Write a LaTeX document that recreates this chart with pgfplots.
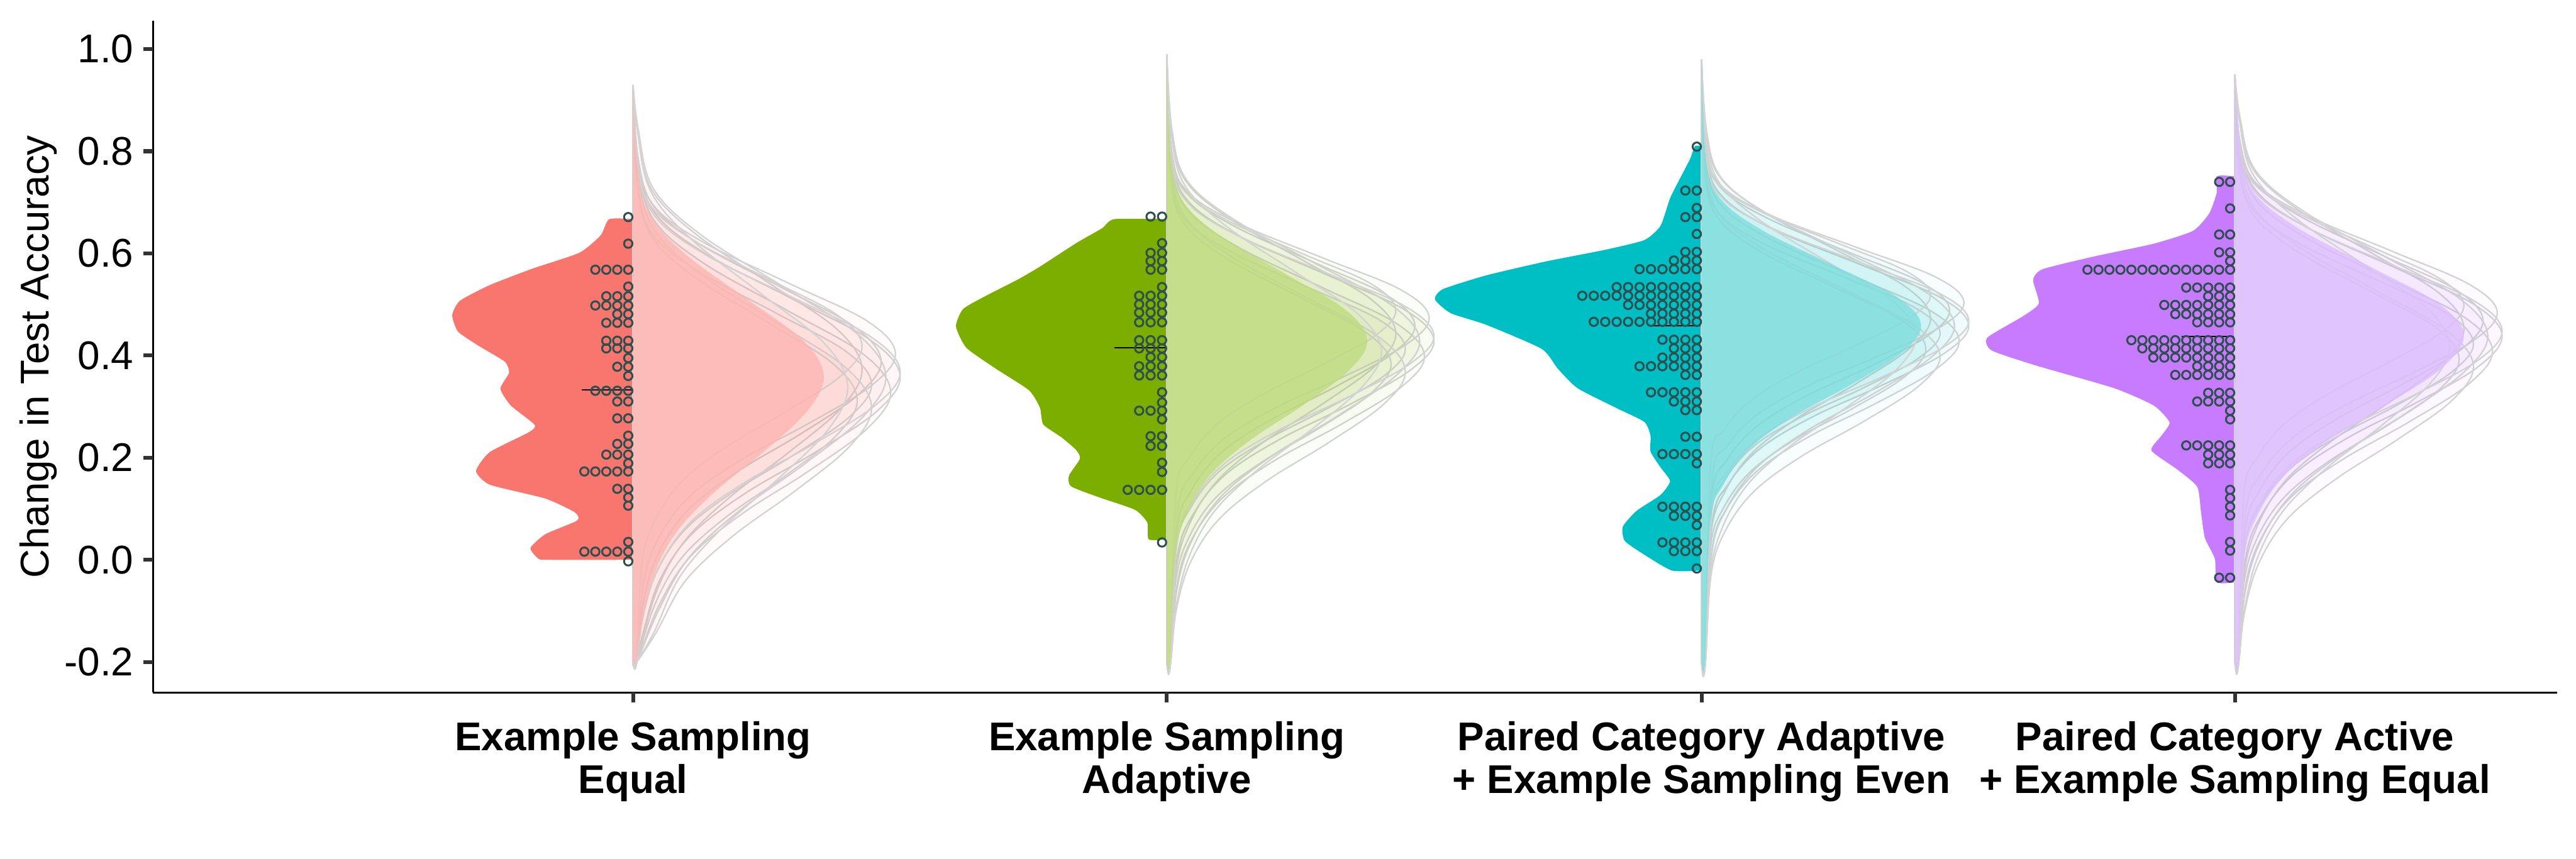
\documentclass[border=0pt]{standalone}
\usepackage{fontspec}
\setmainfont{Liberation Sans}
\usepackage{pgfplots}
\pgfplotsset{compat=1.18}
\definecolor{c1}{HTML}{F8766D}
\definecolor{c2}{HTML}{7CAE00}
\definecolor{c3}{HTML}{00BFC4}
\definecolor{c4}{HTML}{C77CFF}
\definecolor{s1}{HTML}{FDB6B2}
\definecolor{s2}{HTML}{BFDB7F}
\definecolor{s3}{HTML}{80DDDD}
\definecolor{s4}{HTML}{DCBFFD}
\definecolor{dotc}{HTML}{2F4F4F}
\definecolor{grayl}{HTML}{D3D3D3}
\definecolor{tickc}{HTML}{333333}
\pgfplotsset{
  gc/.style={smooth, tension=0.6, draw=grayl, line width=0.6pt, fill opacity=0.028},
  sc/.style={smooth, tension=0.6, draw=none, fill opacity=0.8},
  lv/.style={smooth, tension=0.35, draw=none},
  dots/.style={only marks, mark=o, mark size=1.75pt, mark options={draw=dotc, line width=0.8pt}},
  med/.style={black, line width=0.6pt},
}
\tikzset{ytl/.style={anchor=east, inner sep=0pt, xshift=-8pt, font=\fontsize{16.8}{18}\selectfont},
  tk/.style={draw=tickc, line width=1.6pt, line cap=butt}}
\begin{document}
\begin{tikzpicture}
\begin{axis}[
  at={(0,0)}, anchor=south west,
  scale only axis, width=1007.8pt, height=281.6pt,
  xmin=321, xmax=5360, ymin=-0.26, ymax=1.055, clip=false,
  axis lines=left, axis line style={-, line width=0.8pt, black},
  xtick={1327,2446,3567,4685},
  xticklabels={{Example Sampling\\Equal},{Example Sampling\\Adaptive},{Paired Category Adaptive\\+ Example Sampling Even},{Paired Category Active\\+ Example Sampling Equal}},
  ytick={-0.2,0,0.2,0.4,0.6,0.8,1.0},
  yticklabel=\empty,
  xtick pos=bottom, ytick pos=left,
  tick align=outside, major tick length=4.2pt,
  every major tick/.append style={line width=1.6pt, draw=tickc, line cap=butt},
  xticklabel style={font=\fontsize{16.8}{18}\selectfont\bfseries, align=center, anchor=north, inner sep=0pt, yshift=-7.7pt},
  ylabel={Change in Test Accuracy},
  ylabel style={font=\fontsize{16.8}{18}\selectfont, at={(axis description cs:-0.04783,0.5)}, anchor=center, inner sep=0pt},
]
% y tick labels and tick marks
\node[ytl] at (axis cs:321,-0.2) {-0.2};
\node[ytl] at (axis cs:321,0.0) {0.0};
\node[ytl] at (axis cs:321,0.2) {0.2};
\node[ytl] at (axis cs:321,0.4) {0.4};
\node[ytl] at (axis cs:321,0.6) {0.6};
\node[ytl] at (axis cs:321,0.8) {0.8};
\node[ytl] at (axis cs:321,1.0) {1.0};
\draw[tk] (axis cs:321,-0.2) -- ++(-4.2pt,0pt);
\draw[tk] (axis cs:321,0.0) -- ++(-4.2pt,0pt);
\draw[tk] (axis cs:321,0.2) -- ++(-4.2pt,0pt);
\draw[tk] (axis cs:321,0.4) -- ++(-4.2pt,0pt);
\draw[tk] (axis cs:321,0.6) -- ++(-4.2pt,0pt);
\draw[tk] (axis cs:321,0.8) -- ++(-4.2pt,0pt);
\draw[tk] (axis cs:321,1.0) -- ++(-4.2pt,0pt);
\draw[tk] (axis cs:1327,-0.26) -- ++(0pt,-4.2pt);
\draw[tk] (axis cs:2446,-0.26) -- ++(0pt,-4.2pt);
\draw[tk] (axis cs:3567,-0.26) -- ++(0pt,-4.2pt);
\draw[tk] (axis cs:4685,-0.26) -- ++(0pt,-4.2pt);
% ================= Group 1 =================
\addplot[lv, fill=c1] coordinates {(1327,0.667) (1277,0.667) (1259,0.635) (1214,0.601) (1116,0.570) (1027,0.538) (964,0.507) (948,0.479) (960,0.447) (1000,0.421) (1058,0.388) (1067,0.366) (1049,0.335) (1071,0.302) (1121,0.264) (1107,0.249) (1027,0.211) (998,0.174) (1027,0.147) (1143,0.120) (1205,0.093) (1210,0.077) (1143,0.050) (1112,0.023) (1129,0.002) (1150,0.0) (1327,0.0)} -- cycle;
\addplot[dots] coordinates {
(1317,0.671) (1317,0.619)
(1317,0.568)(1294,0.568)(1271,0.568)(1248,0.568)
(1317,0.535)
(1317,0.516)(1294,0.516)(1271,0.516)
(1317,0.498)(1294,0.498)(1271,0.498)(1248,0.498)
(1317,0.481)(1294,0.481)
(1317,0.464)(1294,0.464)(1271,0.464)
(1317,0.429)(1294,0.429)(1271,0.429)
(1317,0.414)(1294,0.414)(1271,0.414)
(1317,0.395)
(1317,0.378)(1294,0.378)
(1317,0.360)
(1317,0.331)(1294,0.331)(1271,0.331)(1248,0.331)
(1317,0.310)(1294,0.310)
(1317,0.277)(1294,0.277)
(1317,0.243)
(1317,0.227)(1294,0.227)
(1317,0.206)(1294,0.206)(1271,0.206)
(1317,0.189)
(1317,0.173)(1294,0.173)(1271,0.173)(1248,0.173)(1225,0.173)
(1317,0.139)(1294,0.139)
(1317,0.122) (1317,0.106) (1317,0.035)
(1317,0.016)(1294,0.016)(1271,0.016)(1248,0.016)(1225,0.016)
(1317,-0.003)};
\addplot[med] coordinates {(1219,0.333) (1327,0.333)};
\addplot[gc, fill=c1] table[x expr=\thisrow{w}+1327, y=y, row sep=\\] {w y\\0 0.93\\11 0.78\\45 0.68\\151 0.60\\336 0.51\\498 0.43\\560 0.36\\510 0.29\\381 0.21\\235 0.13\\123 0.05\\56 -0.04\\22 -0.14\\8 -0.2\\0 -0.2\\} -- cycle;
\addplot[gc, fill=c1] table[x expr=\thisrow{w}+1327, y=y, row sep=\\] {w y\\0 0.92\\10 0.789\\42 0.694\\140 0.618\\312 0.533\\463 0.457\\520 0.39\\473 0.324\\354 0.248\\218 0.172\\114 0.096\\52 0.01\\21 -0.085\\8 -0.2\\0 -0.2\\} -- cycle;
\addplot[gc, fill=c1] table[x expr=\thisrow{w}+1327, y=y, row sep=\\] {w y\\0 0.91\\11 0.771\\43 0.666\\146 0.582\\324 0.488\\481 0.404\\540 0.33\\491 0.257\\367 0.173\\227 0.089\\119 0.005\\54 -0.09\\8 -0.2\\0 -0.2\\} -- cycle;
\addplot[gc, fill=c1] table[x expr=\thisrow{w}+1327, y=y, row sep=\\] {w y\\0 0.93\\10 0.837\\38 0.727\\130 0.639\\288 0.54\\427 0.452\\480 0.375\\437 0.298\\326 0.21\\202 0.122\\106 0.034\\48 -0.065\\7 -0.2\\0 -0.2\\} -- cycle;
\addplot[gc, fill=c1] table[x expr=\thisrow{w}+1327, y=y, row sep=\\] {w y\\0 0.90\\10 0.731\\40 0.639\\135 0.566\\300 0.483\\445 0.409\\500 0.345\\455 0.281\\340 0.207\\210 0.133\\110 0.06\\50 -0.023\\20 -0.115\\8 -0.2\\0 -0.2\\} -- cycle;
\addplot[gc, fill=c1] table[x expr=\thisrow{w}+1327, y=y, row sep=\\] {w y\\0 0.92\\11 0.783\\44 0.693\\149 0.621\\330 0.54\\490 0.468\\550 0.405\\501 0.342\\374 0.27\\231 0.198\\121 0.126\\55 0.045\\22 -0.045\\8 -0.2\\0 -0.2\\} -- cycle;
\addplot[gc, fill=c1] table[x expr=\thisrow{w}+1327, y=y, row sep=\\] {w y\\0 0.89\\9 0.735\\38 0.635\\127 0.555\\282 0.465\\418 0.385\\470 0.315\\428 0.245\\320 0.165\\197 0.085\\103 0.005\\47 -0.085\\7 -0.2\\0 -0.2\\} -- cycle;
\addplot[gc, fill=c1] table[x expr=\thisrow{w}+1327, y=y, row sep=\\] {w y\\0 0.93\\11 0.843\\42 0.728\\143 0.636\\318 0.533\\472 0.441\\530 0.36\\482 0.28\\360 0.188\\223 0.096\\117 0.004\\53 -0.10\\8 -0.2\\0 -0.2\\} -- cycle;
\addplot[gc, fill=c1] table[x expr=\thisrow{w}+1327, y=y, row sep=\\] {w y\\0 0.88\\10 0.762\\40 0.652\\135 0.564\\300 0.465\\445 0.377\\500 0.30\\455 0.223\\340 0.135\\210 0.047\\110 -0.041\\50 -0.14\\8 -0.2\\0 -0.2\\} -- cycle;
\addplot[gc, fill=c1] table[x expr=\thisrow{w}+1327, y=y, row sep=\\] {w y\\0 0.92\\10 0.777\\38 0.692\\130 0.624\\288 0.548\\427 0.48\\480 0.42\\437 0.361\\326 0.293\\202 0.225\\106 0.157\\48 0.08\\19 -0.005\\7 -0.2\\0 -0.2\\} -- cycle;
\addplot[gc, fill=c1] table[x expr=\thisrow{w}+1327, y=y, row sep=\\] {w y\\0 0.93\\11 0.769\\45 0.674\\151 0.598\\336 0.513\\498 0.437\\560 0.37\\510 0.304\\381 0.228\\235 0.152\\123 0.076\\56 -0.01\\22 -0.105\\8 -0.2\\0 -0.2\\} -- cycle;
\addplot[gc, fill=c1] table[x expr=\thisrow{w}+1327, y=y, row sep=\\] {w y\\0 0.93\\9 0.844\\36 0.724\\122 0.628\\270 0.52\\401 0.424\\450 0.34\\410 0.256\\306 0.16\\189 0.064\\99 -0.032\\45 -0.14\\7 -0.2\\0 -0.2\\} -- cycle;
\addplot[sc, fill=s1] table[x expr=\thisrow{w}+1327, y=y, row sep=\\] {w y\\0 0.93\\8 0.78\\32 0.68\\108 0.60\\240 0.51\\356 0.43\\400 0.36\\364 0.29\\272 0.21\\168 0.13\\88 0.05\\40 -0.04\\16 -0.14\\6 -0.2\\0 -0.2\\} -- cycle;
% ================= Group 2 =================
\addplot[lv, fill=c2] coordinates {(2446,0.667) (2336,0.667) (2310,0.649) (2256,0.620) (2180,0.574) (2134,0.549) (2065,0.516) (2019,0.491) (2004,0.457) (2026,0.415) (2088,0.374) (2157,0.332) (2180,0.298) (2187,0.265) (2225,0.240) (2256,0.215) (2264,0.198) (2241,0.165) (2245,0.144) (2302,0.123) (2379,0.098) (2405,0.073) (2408,0.040) (2446,0.040)} -- cycle;
\addplot[dots] coordinates {
(2436,0.672)(2412,0.672)
(2436,0.620)
(2436,0.601)(2412,0.601)
(2436,0.585)(2412,0.585)
(2436,0.568)(2412,0.568)
(2436,0.534)
(2436,0.517)(2412,0.517)(2388,0.517)
(2436,0.500)(2412,0.500)(2388,0.500)
(2436,0.484)(2412,0.484)(2388,0.484)
(2436,0.465)(2412,0.465)(2388,0.465)
(2436,0.430)(2412,0.430)(2388,0.430)
(2436,0.414)(2412,0.414)(2388,0.414)
(2436,0.397)(2412,0.397)
(2436,0.379)(2412,0.379)(2388,0.379)
(2436,0.361)(2412,0.361)(2388,0.361)
(2436,0.328)
(2436,0.308)
(2436,0.292)(2412,0.292)(2388,0.292)
(2436,0.275)
(2436,0.242)(2412,0.242)
(2436,0.223)(2412,0.223)
(2436,0.190)
(2436,0.172)
(2436,0.137)(2412,0.137)(2388,0.137)(2364,0.137)
(2436,0.034)};
\addplot[med] coordinates {(2336,0.415) (2446,0.415)};
\addplot[gc, fill=c2] table[x expr=\thisrow{w}+2446, y=y, row sep=\\] {w y\\0 0.99\\11 0.787\\45 0.702\\151 0.634\\336 0.558\\498 0.49\\560 0.43\\510 0.371\\381 0.303\\235 0.235\\123 0.167\\56 0.09\\22 0.005\\8 -0.2\\0 -0.2\\} -- cycle;
\addplot[gc, fill=c2] table[x expr=\thisrow{w}+2446, y=y, row sep=\\] {w y\\0 0.98\\10 0.799\\42 0.718\\140 0.654\\312 0.581\\463 0.517\\520 0.46\\473 0.404\\354 0.339\\218 0.274\\114 0.21\\52 0.137\\21 0.056\\8 -0.2\\0 -0.2\\} -- cycle;
\addplot[gc, fill=c2] table[x expr=\thisrow{w}+2446, y=y, row sep=\\] {w y\\0 0.97\\11 0.775\\43 0.686\\146 0.614\\324 0.534\\481 0.463\\540 0.40\\491 0.338\\367 0.266\\227 0.195\\119 0.123\\54 0.043\\22 -0.046\\8 -0.2\\0 -0.2\\} -- cycle;
\addplot[gc, fill=c2] table[x expr=\thisrow{w}+2446, y=y, row sep=\\] {w y\\0 0.99\\10 0.838\\38 0.744\\130 0.669\\288 0.585\\427 0.511\\480 0.445\\437 0.38\\326 0.305\\202 0.23\\106 0.155\\48 0.071\\19 -0.023\\7 -0.2\\0 -0.2\\} -- cycle;
\addplot[gc, fill=c2] table[x expr=\thisrow{w}+2446, y=y, row sep=\\] {w y\\0 0.96\\10 0.743\\40 0.665\\135 0.603\\300 0.532\\445 0.47\\500 0.415\\455 0.36\\340 0.298\\210 0.235\\110 0.173\\50 0.102\\20 0.024\\8 -0.2\\0 -0.2\\} -- cycle;
\addplot[gc, fill=c2] table[x expr=\thisrow{w}+2446, y=y, row sep=\\] {w y\\0 0.98\\11 0.796\\44 0.72\\149 0.659\\330 0.59\\490 0.529\\550 0.475\\501 0.421\\374 0.36\\231 0.299\\121 0.238\\55 0.169\\22 0.092\\8 -0.2\\0 -0.2\\} -- cycle;
\addplot[gc, fill=c2] table[x expr=\thisrow{w}+2446, y=y, row sep=\\] {w y\\0 0.95\\9 0.742\\38 0.657\\127 0.589\\282 0.513\\418 0.445\\470 0.385\\428 0.326\\320 0.258\\197 0.19\\103 0.122\\47 0.045\\19 -0.04\\7 -0.2\\0 -0.2\\} -- cycle;
\addplot[gc, fill=c2] table[x expr=\thisrow{w}+2446, y=y, row sep=\\] {w y\\0 0.99\\11 0.841\\42 0.743\\143 0.665\\318 0.577\\472 0.498\\530 0.43\\482 0.362\\360 0.283\\223 0.205\\117 0.127\\53 0.039\\21 -0.059\\8 -0.2\\0 -0.2\\} -- cycle;
\addplot[gc, fill=c2] table[x expr=\thisrow{w}+2446, y=y, row sep=\\] {w y\\0 0.95\\10 0.763\\40 0.669\\135 0.594\\300 0.51\\445 0.436\\500 0.37\\455 0.305\\340 0.23\\210 0.155\\110 0.08\\50 -0.004\\20 -0.098\\8 -0.2\\0 -0.2\\} -- cycle;
\addplot[gc, fill=c2] table[x expr=\thisrow{w}+2446, y=y, row sep=\\] {w y\\0 0.98\\10 0.793\\38 0.721\\130 0.663\\288 0.598\\427 0.541\\480 0.49\\437 0.439\\326 0.382\\202 0.324\\106 0.266\\48 0.201\\19 0.129\\7 -0.2\\0 -0.2\\} -- cycle;
\addplot[gc, fill=c2] table[x expr=\thisrow{w}+2446, y=y, row sep=\\] {w y\\0 0.99\\11 0.779\\45 0.698\\151 0.634\\336 0.561\\498 0.497\\560 0.44\\510 0.384\\381 0.319\\235 0.254\\123 0.19\\56 0.117\\22 0.036\\8 -0.2\\0 -0.2\\} -- cycle;
\addplot[gc, fill=c2] table[x expr=\thisrow{w}+2446, y=y, row sep=\\] {w y\\0 0.99\\9 0.838\\36 0.736\\122 0.655\\270 0.563\\401 0.481\\450 0.41\\410 0.339\\306 0.257\\189 0.175\\99 0.094\\45 0.002\\18 -0.10\\7 -0.2\\0 -0.2\\} -- cycle;
\addplot[sc, fill=s2] table[x expr=\thisrow{w}+2446, y=y, row sep=\\] {w y\\0 0.99\\8 0.787\\34 0.702\\113 0.634\\252 0.558\\374 0.49\\420 0.43\\382 0.371\\286 0.303\\176 0.235\\92 0.167\\42 0.09\\17 0.005\\6 -0.2\\0 -0.2\\} -- cycle;
% ================= Group 3 =================
\addplot[lv, fill=c3] coordinates {(3567,0.81) (3553,0.81) (3543,0.785) (3522,0.747) (3501,0.708) (3481,0.654) (3447,0.626) (3365,0.607) (3240,0.584) (3116,0.557) (3025,0.530) (3008,0.510) (3041,0.483) (3116,0.460) (3232,0.413) (3265,0.375) (3307,0.336) (3389,0.297) (3447,0.270) (3460,0.243) (3460,0.212) (3481,0.181) (3501,0.154) (3481,0.127) (3431,0.096) (3402,0.065) (3406,0.037) (3447,0.010) (3505,-0.021) (3567,-0.021)} -- cycle;
\addplot[dots] coordinates {
(3557,0.809)
(3557,0.723)(3533,0.723)
(3557,0.689)
(3557,0.671)(3533,0.671)
(3557,0.638)
(3557,0.603)(3533,0.603)
(3557,0.586)(3533,0.586)(3509,0.586)
(3557,0.569)(3533,0.569)(3509,0.569)(3485,0.569)(3461,0.569)(3437,0.569)
(3557,0.534)(3533,0.534)(3509,0.534)(3485,0.534)(3461,0.534)(3437,0.534)(3413,0.534)(3389,0.534)
(3557,0.517)(3533,0.517)(3509,0.517)(3485,0.517)(3461,0.517)(3437,0.517)(3413,0.517)(3389,0.517)(3365,0.517)(3341,0.517)(3317,0.517)
(3557,0.499)(3533,0.499)(3509,0.499)(3485,0.499)(3461,0.499)(3437,0.499)(3413,0.499)
(3557,0.482)(3533,0.482)(3509,0.482)(3485,0.482)(3461,0.482)
(3557,0.466)(3533,0.466)(3509,0.466)(3485,0.466)(3461,0.466)(3437,0.466)(3413,0.466)(3389,0.466)(3365,0.466)(3341,0.466)
(3557,0.431)(3533,0.431)(3509,0.431)(3485,0.431)
(3557,0.414)(3533,0.414)(3509,0.414)
(3557,0.396)(3533,0.396)(3509,0.396)(3485,0.396)
(3557,0.379)(3533,0.379)(3509,0.379)(3485,0.379)(3461,0.379)(3437,0.379)
(3557,0.362)(3533,0.362)
(3557,0.328)(3533,0.328)(3509,0.328)(3485,0.328)(3461,0.328)
(3557,0.310)(3533,0.310)(3509,0.310)
(3557,0.293)(3533,0.293)
(3557,0.241)(3533,0.241)
(3557,0.207)(3533,0.207)(3509,0.207)(3485,0.207)
(3557,0.189)
(3557,0.104)(3533,0.104)(3509,0.104)(3485,0.104)
(3557,0.086)(3533,0.086)(3509,0.086)
(3557,0.068)
(3557,0.034)(3533,0.034)(3509,0.034)(3485,0.034)
(3557,0.017)(3533,0.017)(3509,0.017)
(3557,-0.017)};
\addplot[med] coordinates {(3456,0.458) (3567,0.458)};
\addplot[gc, fill=c3] table[x expr=\thisrow{w}+3567, y=y, row sep=\\] {w y\\0 0.98\\11 0.788\\45 0.71\\151 0.647\\336 0.577\\498 0.515\\560 0.46\\510 0.405\\381 0.343\\235 0.281\\123 0.218\\56 0.148\\22 0.07\\8 -0.2\\0 -0.2\\} -- cycle;
\addplot[gc, fill=c3] table[x expr=\thisrow{w}+3567, y=y, row sep=\\] {w y\\0 0.97\\10 0.801\\42 0.727\\140 0.668\\312 0.601\\463 0.542\\520 0.49\\473 0.438\\354 0.379\\218 0.32\\114 0.26\\52 0.194\\21 0.12\\8 -0.2\\0 -0.2\\} -- cycle;
\addplot[gc, fill=c3] table[x expr=\thisrow{w}+3567, y=y, row sep=\\] {w y\\0 0.96\\11 0.774\\43 0.692\\146 0.627\\324 0.553\\481 0.487\\540 0.43\\491 0.373\\367 0.307\\227 0.242\\119 0.176\\54 0.102\\22 0.02\\8 -0.2\\0 -0.2\\} -- cycle;
\addplot[gc, fill=c3] table[x expr=\thisrow{w}+3567, y=y, row sep=\\] {w y\\0 0.98\\10 0.835\\38 0.75\\130 0.681\\288 0.604\\427 0.535\\480 0.475\\437 0.415\\326 0.346\\202 0.278\\106 0.209\\48 0.132\\19 0.046\\7 -0.2\\0 -0.2\\} -- cycle;
\addplot[gc, fill=c3] table[x expr=\thisrow{w}+3567, y=y, row sep=\\] {w y\\0 0.95\\10 0.746\\40 0.675\\135 0.617\\300 0.553\\445 0.495\\500 0.445\\455 0.395\\340 0.337\\210 0.28\\110 0.223\\50 0.158\\20 0.086\\8 -0.2\\0 -0.2\\} -- cycle;
\addplot[gc, fill=c3] table[x expr=\thisrow{w}+3567, y=y, row sep=\\] {w y\\0 0.97\\11 0.80\\44 0.73\\149 0.673\\330 0.61\\490 0.554\\550 0.505\\501 0.456\\374 0.40\\231 0.344\\121 0.287\\55 0.224\\22 0.154\\8 -0.2\\0 -0.2\\} -- cycle;
\addplot[gc, fill=c3] table[x expr=\thisrow{w}+3567, y=y, row sep=\\] {w y\\0 0.94\\9 0.743\\38 0.665\\127 0.602\\282 0.532\\418 0.47\\470 0.415\\428 0.36\\320 0.298\\197 0.236\\103 0.173\\47 0.103\\19 0.025\\7 -0.2\\0 -0.2\\} -- cycle;
\addplot[gc, fill=c3] table[x expr=\thisrow{w}+3567, y=y, row sep=\\] {w y\\0 0.98\\11 0.837\\42 0.747\\143 0.675\\318 0.595\\472 0.523\\530 0.46\\482 0.397\\360 0.325\\223 0.254\\117 0.182\\53 0.101\\21 0.011\\8 -0.2\\0 -0.2\\} -- cycle;
\addplot[gc, fill=c3] table[x expr=\thisrow{w}+3567, y=y, row sep=\\] {w y\\0 0.95\\10 0.76\\40 0.675\\135 0.606\\300 0.529\\445 0.46\\500 0.40\\455 0.34\\340 0.271\\210 0.203\\110 0.134\\50 0.057\\20 -0.029\\8 -0.2\\0 -0.2\\} -- cycle;
\addplot[gc, fill=c3] table[x expr=\thisrow{w}+3567, y=y, row sep=\\] {w y\\0 0.97\\10 0.798\\38 0.732\\130 0.679\\288 0.619\\427 0.566\\480 0.52\\437 0.474\\326 0.421\\202 0.368\\106 0.314\\48 0.255\\19 0.188\\7 -0.2\\0 -0.2\\} -- cycle;
\addplot[gc, fill=c3] table[x expr=\thisrow{w}+3567, y=y, row sep=\\] {w y\\0 0.98\\11 0.781\\45 0.707\\151 0.648\\336 0.581\\498 0.522\\560 0.47\\510 0.418\\381 0.359\\235 0.30\\123 0.24\\56 0.174\\22 0.10\\8 -0.2\\0 -0.2\\} -- cycle;
\addplot[gc, fill=c3] table[x expr=\thisrow{w}+3567, y=y, row sep=\\] {w y\\0 0.98\\9 0.833\\36 0.74\\122 0.665\\270 0.58\\401 0.506\\450 0.44\\410 0.374\\306 0.30\\189 0.225\\99 0.15\\45 0.066\\18 -0.028\\7 -0.2\\0 -0.2\\} -- cycle;
\addplot[sc, fill=s3] table[x expr=\thisrow{w}+3567, y=y, row sep=\\] {w y\\0 0.98\\9 0.788\\37 0.71\\124 0.647\\276 0.577\\409 0.515\\460 0.46\\419 0.405\\313 0.343\\193 0.281\\101 0.218\\46 0.148\\18 0.07\\7 -0.2\\0 -0.2\\} -- cycle;
% ================= Group 4 =================
\addplot[lv, fill=c4] coordinates {(4685,0.751) (4647,0.751) (4647,0.719) (4631,0.678) (4597,0.644) (4515,0.619) (4390,0.594) (4282,0.569) (4262,0.548) (4274,0.502) (4241,0.477) (4166,0.435) (4175,0.410) (4266,0.381) (4432,0.336) (4515,0.302) (4548,0.269) (4531,0.243) (4510,0.214) (4564,0.177) (4606,0.143) (4614,0.093) (4622,0.043) (4643,0.002) (4647,-0.044) (4685,-0.044)} -- cycle;
\addplot[dots] coordinates {
(4675,0.740)(4652,0.740)
(4675,0.688)
(4675,0.637)(4652,0.637)
(4675,0.602)(4652,0.602)
(4675,0.585)
(4675,0.568)(4652,0.568)(4629,0.568)(4606,0.568)(4583,0.568)(4560,0.568)(4537,0.568)(4514,0.568)(4491,0.568)(4468,0.568)(4445,0.568)(4422,0.568)(4399,0.568)(4376,0.568)
(4675,0.533)(4652,0.533)(4629,0.533)(4606,0.533)(4583,0.533)
(4675,0.516)(4652,0.516)(4629,0.516)
(4675,0.499)(4652,0.499)(4629,0.499)(4606,0.499)(4583,0.499)(4560,0.499)(4537,0.499)
(4675,0.481)(4652,0.481)(4629,0.481)(4606,0.481)(4583,0.481)(4560,0.481)
(4675,0.465)(4652,0.465)(4629,0.465)(4606,0.465)
(4675,0.430)(4652,0.430)(4629,0.430)(4606,0.430)(4583,0.430)(4560,0.430)(4537,0.430)(4514,0.430)(4491,0.430)(4468,0.430)
(4675,0.414)(4652,0.414)(4629,0.414)(4606,0.414)(4583,0.414)(4560,0.414)(4537,0.414)(4514,0.414)(4491,0.414)
(4675,0.396)(4652,0.396)(4629,0.396)(4606,0.396)(4583,0.396)(4560,0.396)(4537,0.396)(4514,0.396)
(4675,0.379)(4652,0.379)(4629,0.379)(4606,0.379)
(4675,0.362)(4652,0.362)(4629,0.362)(4606,0.362)(4583,0.362)(4560,0.362)
(4675,0.327)(4652,0.327)(4629,0.327)
(4675,0.310)(4652,0.310)(4629,0.310)(4606,0.310)
(4675,0.292)
(4675,0.275)
(4675,0.224)(4652,0.224)(4629,0.224)(4606,0.224)(4583,0.224)
(4675,0.206)(4652,0.206)(4629,0.206)
(4675,0.189)(4652,0.189)(4629,0.189)
(4675,0.137) (4675,0.121) (4675,0.104) (4675,0.087)
(4675,0.035) (4675,0.018)
(4675,-0.035)(4652,-0.035)};
\addplot[med] coordinates {(4574,0.437) (4685,0.437)};
\addplot[gc, fill=c4] table[x expr=\thisrow{w}+4685, y=y, row sep=\\] {w y\\0 0.95\\11 0.81\\45 0.722\\151 0.651\\336 0.572\\498 0.502\\560 0.44\\510 0.378\\381 0.308\\235 0.238\\123 0.167\\56 0.088\\22 0\\8 -0.2\\0 -0.2\\} -- cycle;
\addplot[gc, fill=c4] table[x expr=\thisrow{w}+4685, y=y, row sep=\\] {w y\\0 0.94\\10 0.821\\42 0.738\\140 0.671\\312 0.595\\463 0.529\\520 0.47\\473 0.411\\354 0.345\\218 0.278\\114 0.211\\52 0.136\\21 0.052\\8 -0.2\\0 -0.2\\} -- cycle;
\addplot[gc, fill=c4] table[x expr=\thisrow{w}+4685, y=y, row sep=\\] {w y\\0 0.93\\11 0.798\\43 0.706\\146 0.632\\324 0.549\\481 0.475\\540 0.41\\491 0.345\\367 0.271\\227 0.197\\119 0.124\\54 0.04\\22 -0.052\\8 -0.2\\0 -0.2\\} -- cycle;
\addplot[gc, fill=c4] table[x expr=\thisrow{w}+4685, y=y, row sep=\\] {w y\\0 0.95\\10 0.862\\38 0.765\\130 0.687\\288 0.60\\427 0.523\\480 0.455\\437 0.387\\326 0.31\\202 0.232\\106 0.155\\48 0.068\\19 -0.029\\7 -0.2\\0 -0.2\\} -- cycle;
\addplot[gc, fill=c4] table[x expr=\thisrow{w}+4685, y=y, row sep=\\] {w y\\0 0.92\\10 0.765\\40 0.684\\135 0.619\\300 0.547\\445 0.482\\500 0.425\\455 0.368\\340 0.303\\210 0.239\\110 0.174\\50 0.101\\20 0.02\\8 -0.2\\0 -0.2\\} -- cycle;
\addplot[gc, fill=c4] table[x expr=\thisrow{w}+4685, y=y, row sep=\\] {w y\\0 0.94\\11 0.818\\44 0.738\\149 0.675\\330 0.604\\490 0.54\\550 0.485\\501 0.43\\374 0.366\\231 0.303\\121 0.239\\55 0.168\\22 0.089\\8 -0.2\\0 -0.2\\} -- cycle;
\addplot[gc, fill=c4] table[x expr=\thisrow{w}+4685, y=y, row sep=\\] {w y\\0 0.91\\9 0.765\\38 0.677\\127 0.606\\282 0.527\\418 0.457\\470 0.395\\428 0.333\\320 0.263\\197 0.193\\103 0.122\\47 0.043\\19 -0.045\\7 -0.2\\0 -0.2\\} -- cycle;
\addplot[gc, fill=c4] table[x expr=\thisrow{w}+4685, y=y, row sep=\\] {w y\\0 0.95\\11 0.865\\42 0.764\\143 0.683\\318 0.592\\472 0.511\\530 0.44\\482 0.369\\360 0.288\\223 0.207\\117 0.126\\53 0.035\\21 -0.066\\8 -0.2\\0 -0.2\\} -- cycle;
\addplot[gc, fill=c4] table[x expr=\thisrow{w}+4685, y=y, row sep=\\] {w y\\0 0.92\\10 0.787\\40 0.69\\135 0.612\\300 0.525\\445 0.448\\500 0.38\\455 0.312\\340 0.235\\210 0.157\\110 0.08\\50 -0.007\\20 -0.104\\8 -0.2\\0 -0.2\\} -- cycle;
\addplot[gc, fill=c4] table[x expr=\thisrow{w}+4685, y=y, row sep=\\] {w y\\0 0.95\\10 0.814\\38 0.739\\130 0.68\\288 0.612\\427 0.552\\480 0.50\\437 0.448\\326 0.388\\202 0.328\\106 0.268\\48 0.201\\19 0.126\\7 -0.2\\0 -0.2\\} -- cycle;
\addplot[gc, fill=c4] table[x expr=\thisrow{w}+4685, y=y, row sep=\\] {w y\\0 0.95\\11 0.801\\45 0.718\\151 0.651\\336 0.575\\498 0.509\\560 0.45\\510 0.391\\381 0.325\\235 0.258\\123 0.191\\56 0.116\\22 0.032\\8 -0.2\\0 -0.2\\} -- cycle;
\addplot[gc, fill=c4] table[x expr=\thisrow{w}+4685, y=y, row sep=\\] {w y\\0 0.95\\9 0.864\\36 0.758\\122 0.673\\270 0.578\\401 0.494\\450 0.42\\410 0.346\\306 0.262\\189 0.177\\99 0.093\\45 -0.002\\18 -0.108\\7 -0.2\\0 -0.2\\} -- cycle;
\addplot[sc, fill=s4] table[x expr=\thisrow{w}+4685, y=y, row sep=\\] {w y\\0 0.95\\10 0.81\\38 0.722\\130 0.651\\288 0.572\\427 0.502\\480 0.44\\437 0.378\\326 0.308\\202 0.238\\106 0.167\\48 0.088\\19 0\\7 -0.2\\0 -0.2\\} -- cycle;
\end{axis}
\pgfresetboundingbox
\path (-64.2pt,-69.6pt) rectangle (1015.8pt,290.4pt);
\end{tikzpicture}
\end{document}
